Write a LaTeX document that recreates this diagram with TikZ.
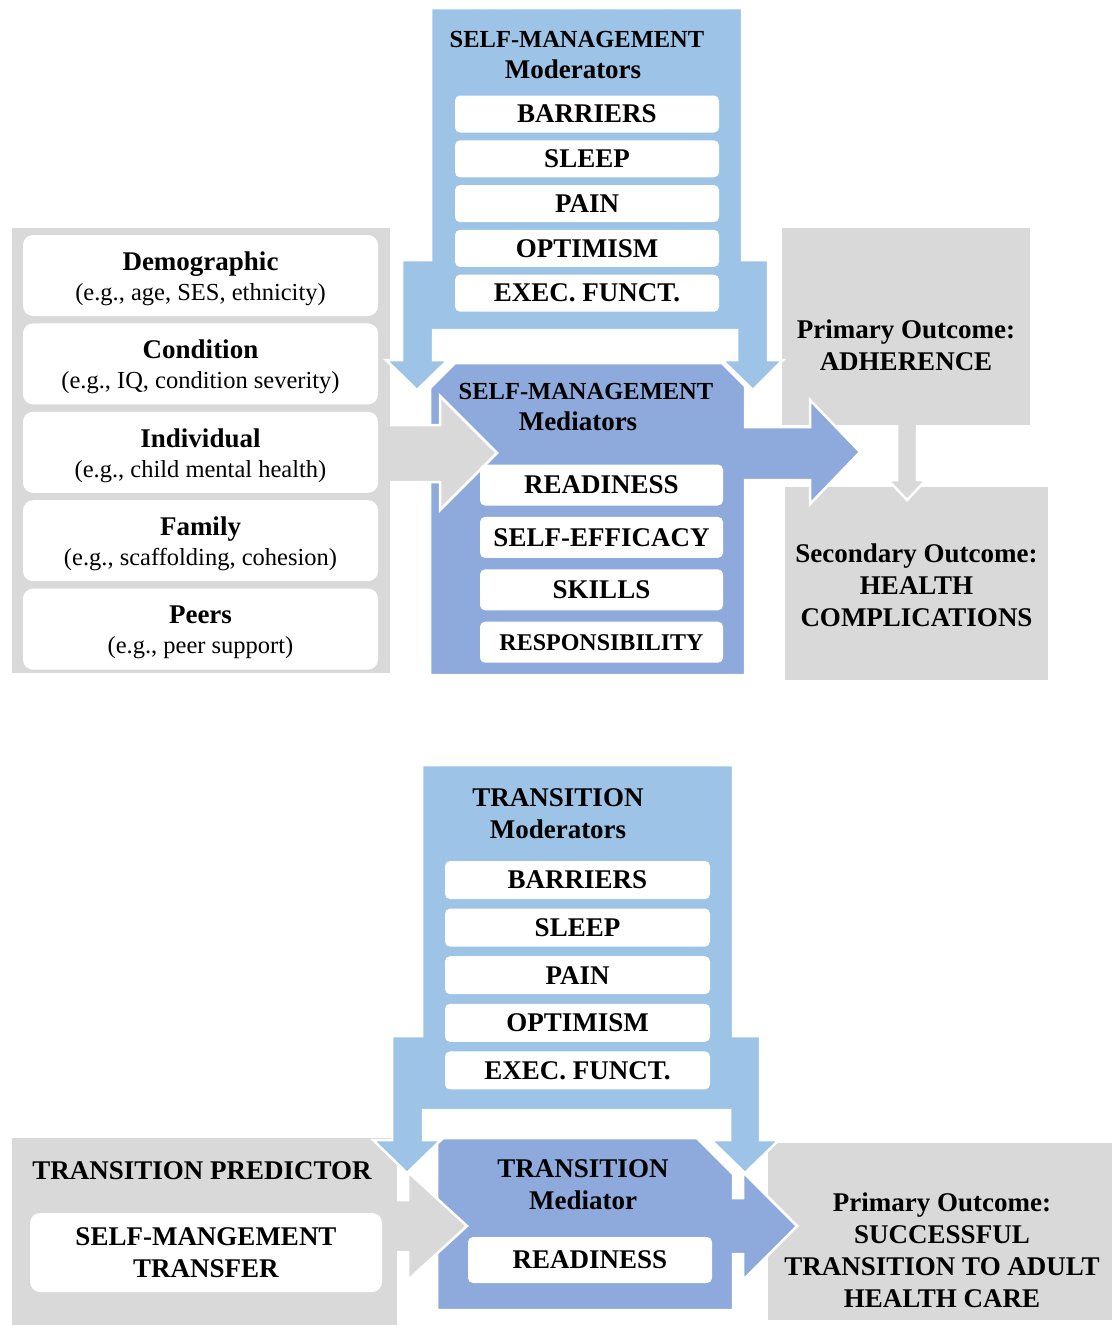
\documentclass[tikz,border=0pt]{standalone}
\usepackage{fontspec}
\setmainfont{Liberation Serif}
\usetikzlibrary{positioning}

\definecolor{modblue}{HTML}{9DC3E6}
\definecolor{medblue}{HTML}{8EA9DB}
\definecolor{panelgrey}{HTML}{D9D9D9}

\newcommand{\egtext}[1]{{\mdseries\fontsize{24.5}{30}\selectfont #1}}
\newcommand{\smalltitle}[1]{{\fontsize{24.5}{31}\selectfont #1}}
\newcommand{\factortext}[2]{\rule{0pt}{25pt}#1\\[-2pt]\egtext{#2}}

\begin{document}
\begin{tikzpicture}[x=1pt, y=-1pt,
  every node/.style={font=\fontsize{27}{32}\selectfont\bfseries, align=center, inner sep=0pt},
  border/.style={draw=white, line width=2.5pt},
  modbox/.style={fill=white, rounded corners=5pt, minimum width=264pt, minimum height=37pt},
  medbox/.style={fill=white, rounded corners=5pt, minimum width=243pt, minimum height=41pt},
  factorbox/.style={fill=white, rounded corners=10pt, minimum width=355pt, minimum height=81pt}]
  \useasboundingbox (0,0) rectangle (1112,1325);

  % Grey panels
  \fill[panelgrey] (12,228) rectangle (390,673);
  \fill[panelgrey] (782,228) rectangle (1030,425);
  \fill[panelgrey] (785,487) rectangle (1048,680);
  \fill[panelgrey] (12,1138) rectangle (397,1325);
  \fill[panelgrey] (768,1143) rectangle (1112,1320);

  % Primary -> secondary outcome
  \filldraw[fill=panelgrey, border] (897,425) -- (897,480) -- (888,480) -- (907,500)
    -- (926,480) -- (917,480) -- (917,425);

  % Mediators
  \filldraw[fill=medblue, border] (455,363) -- (722,363) -- (745,386) -- (745,427)
    -- (810,427) -- (810,400) -- (860,452) -- (810,504) -- (810,480) -- (745,480)
    -- (745,675) -- (430,675) -- (430,388) -- cycle;
  \filldraw[fill=medblue, border] (437,1138) -- (697,1138) -- (733,1174) -- (733,1198)
    -- (743,1198) -- (743,1172) -- (797,1226) -- (743,1280) -- (743,1254) -- (733,1254)
    -- (733,1310) -- (437,1310) -- cycle;

  % Predictor arrows
  \filldraw[fill=panelgrey, border] (390,425) -- (440,425) -- (440,396) -- (497,453)
    -- (440,510) -- (440,482) -- (390,482);
  \filldraw[fill=panelgrey, border] (397,1200) -- (408,1200) -- (408,1172) -- (467,1226)
    -- (408,1280) -- (408,1252) -- (397,1252);

  % Moderators
  \filldraw[fill=modblue, border] (431,8) -- (742,8) -- (742,260) -- (768,260) -- (768,360)
    -- (783,360) -- (753,390) -- (722,360) -- (737,360) -- (737,330) -- (433,330)
    -- (433,360) -- (448,360) -- (417,390) -- (386,360) -- (402,360) -- (402,260)
    -- (431,260) -- cycle;
  \filldraw[fill=modblue, border] (422,765) -- (733,765) -- (733,1036) -- (760,1036)
    -- (760,1140) -- (779,1140) -- (745,1173) -- (711,1140) -- (730,1140) -- (730,1110)
    -- (423,1110) -- (423,1140) -- (441,1140) -- (407,1173) -- (373,1140) -- (392,1140)
    -- (392,1036) -- (422,1036) -- cycle;

  % Self-management moderators
  \node (modtitleA) at (577,55) {\smalltitle{SELF-MANAGEMENT}\\[-1pt]Moderators\hspace*{8pt}};
  \node[modbox] (barA) at (587,114) {BARRIERS};
  \node[modbox, below=7.4pt of barA] (sleepA) {SLEEP};
  \node[modbox, below=7.4pt of sleepA] (painA) {PAIN};
  \node[modbox, below=7.4pt of painA] (optA) {OPTIMISM};
  \node[modbox, below=7.4pt of optA] (execA) {EXEC. FUNCT.};

  % Self-management mediators
  \node (medtitleA) at (586,407) {\smalltitle{SELF-MANAGEMENT}\\[-1pt]Mediators\hspace*{16pt}};
  \node[medbox] (readyA) at (601.5,485) {READINESS};
  \node[medbox, below=11pt of readyA] (efficacy) {SELF-EFFICACY};
  \node[medbox, below=11pt of efficacy] (skills) {SKILLS};
  \node[medbox, below=11pt of skills] (resp) {{\fontsize{24}{30}\selectfont RESPONSIBILITY}};

  % Predictors
  \node[factorbox] (demo) at (200.5,275.5) {\factortext{Demographic}{(e.g., age, SES, ethnicity)}};
  \node[factorbox, below=7pt of demo] (cond) {\factortext{Condition}{(e.g., IQ, condition severity)}};
  \node[factorbox, below=7pt of cond] (indiv) {\factortext{Individual}{(e.g., child mental health)}};
  \node[factorbox, below=7pt of indiv] (family) {\factortext{Family}{(e.g., scaffolding, cohesion)}};
  \node[factorbox, below=7pt of family] (peers) {\factortext{Peers}{(e.g., peer support)}};

  % Outcomes
  \node (adherence) at (906,345) {Primary Outcome:\\ADHERENCE};
  \node (complic) at (916.5,585) {Secondary Outcome:\\HEALTH\\COMPLICATIONS};

  % Transition moderators
  \node (modtitleB) at (558,814) {TRANSITION\\Moderators};
  \node[modbox, minimum width=265pt, minimum height=38pt] (barB) at (577.5,880) {BARRIERS};
  \node[modbox, minimum width=265pt, minimum height=38pt, below=9.2pt of barB] (sleepB) {SLEEP};
  \node[modbox, minimum width=265pt, minimum height=38pt, below=9.2pt of sleepB] (painB) {PAIN};
  \node[modbox, minimum width=265pt, minimum height=38pt, below=9.2pt of painB] (optB) {OPTIMISM};
  \node[modbox, minimum width=265pt, minimum height=38pt, below=9.2pt of optB] (execB) {EXEC. FUNCT.};

  % Transition mediator
  \node (medtitleB) at (583,1185) {TRANSITION\\Mediator};
  \node[medbox, minimum width=244pt, minimum height=46pt] (readyB) at (590,1260) {READINESS};

  % Transition predictor
  \node (predtitle) at (202,1171) {TRANSITION PREDICTOR};
  \node[factorbox, minimum width=352pt, minimum height=79pt] (transfer) at (206,1252.5) {SELF-MANGEMENT\\TRANSFER};

  % Transition outcome
  \node (success) at (942,1250) {Primary Outcome:\\SUCCESSFUL\\TRANSITION TO ADULT\\HEALTH CARE};
\end{tikzpicture}
\end{document}
